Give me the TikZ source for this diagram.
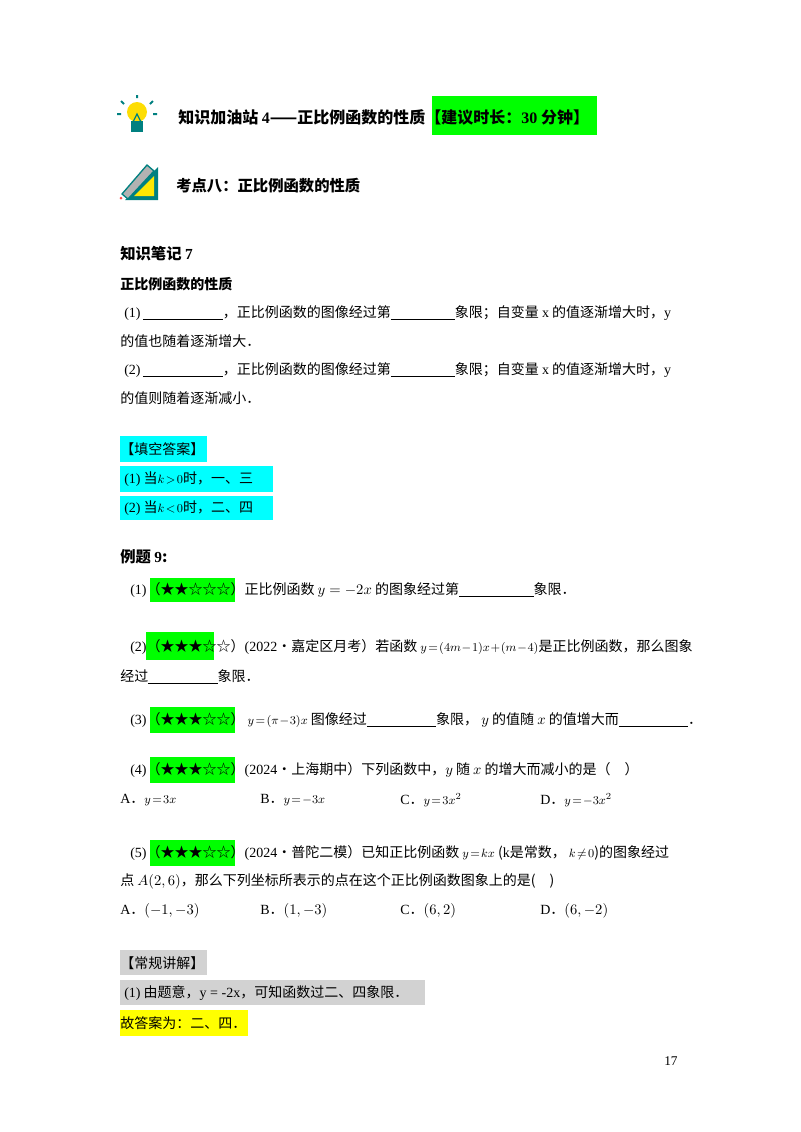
\documentclass[tikz,border=0pt]{standalone}
\usepackage{fontspec}
\setmainfont{Noto Sans CJK SC}
\newfontfamily\T{Liberation Serif}
\newcommand{\bl}[1]{\rule[-1.5pt]{#1pt}{0.4pt}}
\newcommand{\sm}[1]{{\fontsize{9.5}{11}\selectfont\medmuskip=1mu\thickmuskip=2mu$#1$}}
\definecolor{gr}{RGB}{0,255,0}
\definecolor{cy}{RGB}{0,255,255}
\definecolor{gy}{RGB}{210,210,210}
\definecolor{yl}{RGB}{255,255,0}
\begin{document}
\begin{tikzpicture}[x=0.75pt,y=-0.75pt,
  t/.style={anchor=west,inner sep=0,font=\fontsize{10.5}{12}\selectfont},
  h/.style={t,font=\fontsize{11.5}{13}\selectfont\bfseries}]
\useasboundingbox (0,0) rectangle (800,1132);
% boxes
\fill[gr] (432,96) rectangle (597,135);
\fill[cy] (120,436) rectangle (207,462);
\fill[cy] (120,466) rectangle (273,492);
\fill[cy] (120,496) rectangle (273,520);
\fill[gr] (150,578) rectangle (235,602);
\fill[gr] (146,632) rectangle (214,660);
\fill[gr] (150,707) rectangle (235,733);
\fill[gr] (150,757) rectangle (235,783);
\fill[gr] (150,840) rectangle (235,866);
\fill[gy] (120,950) rectangle (207,975);
\fill[gy] (120,980) rectangle (425,1005);
\fill[yl] (120,1010) rectangle (248,1036);
% bulb icon
\fill[yellow!80!orange] (137,112) circle (10);
\fill[teal] (131,121) rectangle (143,132);
\draw[teal,line width=1.5pt] (137,98)--(137,95) (124,104)--(121,101) (150,104)--(153,101) (121,114)--(117,114) (153,114)--(157,114);
\draw[teal,line width=1pt] (133,122)--(137,114)--(141,122);
% pencil/ruler icon
\fill[teal] (125,200)--(158,167)--(158,200)--cycle;
\fill[yellow!90!orange] (134,196)--(154,176)--(154,196)--cycle;
\fill[gray!60] (122,194)--(147,165)--(154,171)--(128,199)--cycle;
\draw[teal,line width=1pt] (122,194)--(147,165)--(154,171)--(128,199)--cycle;
\fill[red!70] (121,198) circle (1.5);
% titles
\node[t,font=\fontsize{12}{14}\selectfont\bfseries] (t1) at (178,117) {知识加油站 {\T\bfseries 4}——正比例函数的性质【建议时长：{\T\bfseries 30} 分钟】};
\node[h] (t2) at (176,186) {考点八：正比例函数的性质};
\node[h] (t3) at (120,254) {知识笔记 {\T\bfseries 7}};
\node[t,font=\fontsize{10.5}{12}\selectfont\bfseries] (t4) at (120,284) {正比例函数的性质};
\node[t] (a1) at (124,313) {{\T (1)}\,\bl{60}，正比例函数的图像经过第\bl{48}象限；自变量 {\T x} 的值逐渐增大时，{\T y}};
\node[t] (a1b) at (120,341) {的值也随着逐渐增大．};
\node[t] (a2) at (124,370) {{\T (2)}\,\bl{60}，正比例函数的图像经过第\bl{48}象限；自变量 {\T x} 的值逐渐增大时，{\T y}};
\node[t] (a2b) at (120,398) {的值则随着逐渐减小．};
\node[t] (k0) at (120,449) {【填空答案】};
\node[t] (k1) at (124,479) {{\T (1)} 当\sm{k>0}时，一、三};
\node[t] (k2) at (124,508) {{\T (2)} 当\sm{k<0}时，二、四};
\node[h] (ex) at (120,557) {例题 {\T\bfseries 9}:};
\node[t] (e1) at (130,590) {{\T (1)}（★★☆☆☆）正比例函数 $y=-2x$ 的图象经过第\bl{56}象限．};
\node[t] (e2) at (130,647) {{\T (2)}（★★★☆☆）{\T (2022}•嘉定区月考）若函数 \sm{y=(4m-1)x+(m-4)}是正比例函数，那么图象};
\node[t] (e2b) at (120,677) {经过\bl{52}象限．};
\node[t] (e3) at (130,720) {{\T (3)}（★★★☆☆） \sm{y=(\pi-3)x} 图像经过\bl{52}象限， $y$ 的值随 $x$ 的值增大而\bl{52}．};
\node[t] (e4) at (130,770) {{\T (4)}（★★★☆☆）{\T (2024}•上海期中）下列函数中，$y$ 随 $x$ 的增大而减小的是（\quad）};
\node[t] (o1) at (120,800) {{\T A}．\sm{y=3x}};
\node[t] (o2) at (260,800) {{\T B}．\sm{y=-3x}};
\node[t] (o3) at (400,800) {{\T C}．\sm{y=3x^2}};
\node[t] (o4) at (540,800) {{\T D}．\sm{y=-3x^2}};
\node[t] (e5) at (130,853) {{\T (5)}（★★★☆☆）{\T (2024}•普陀二模）已知正比例函数 \sm{y=kx} ({\T k}是常数， \sm{k\neq0})的图象经过};
\node[t] (e5b) at (120,881) {点 $A(2,6)$，那么下列坐标所表示的点在这个正比例函数图象上的是(\quad)};
\node[t] (p1) at (120,911) {{\T A}．$(-1,-3)$};
\node[t] (p2) at (260,911) {{\T B}．$(1,-3)$};
\node[t] (p3) at (400,911) {{\T C}．$(6,2)$};
\node[t] (p4) at (540,911) {{\T D}．$(6,-2)$};
\node[t] (g0) at (120,963) {【常规讲解】};
\node[t] (g1) at (124,993) {{\T (1)} 由题意，{\T y = -2x}，可知函数过二、四象限．};
\node[t] (g2) at (120,1023) {故答案为：二、四．};
\node[t,font=\T\fontsize{10}{12}\selectfont] (pg) at (664,1061) {17};
\end{tikzpicture}
\end{document}
